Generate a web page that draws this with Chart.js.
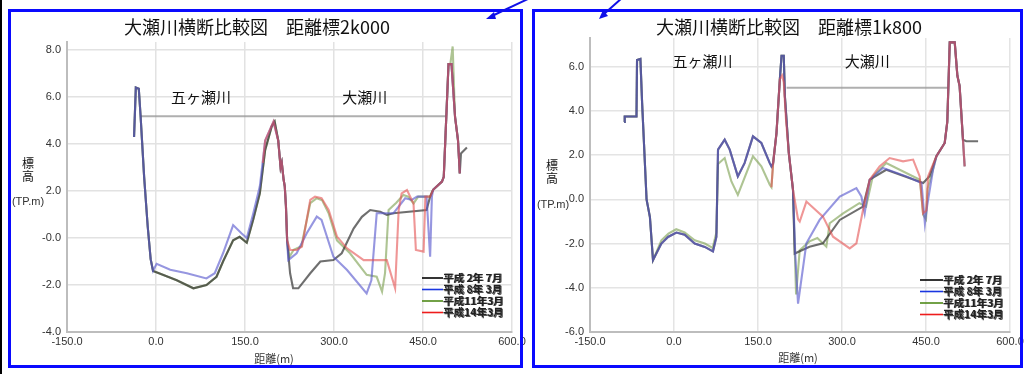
<!DOCTYPE html>
<html>
<head>
<meta charset="utf-8">
<script src="https://cdn.jsdelivr.net/npm/chart.js@4"></script>
<style>
  html, body { margin:0; padding:0; background:#fff; }
  body { width:1024px; height:374px; position:relative; overflow:hidden; }
  .panel { position:absolute; box-sizing:border-box; border:3px solid #0a0aff; z-index:2; }
  canvas { position:absolute; top:0; z-index:1; }
  .t { position:absolute; transform:translate(-50%,-50%); white-space:nowrap; color:#111; z-index:3;
       font-family:"Noto Sans CJK JP","Noto Sans",sans-serif; line-height:1; }
  .lat { font-family:"Liberation Sans",Arial,sans-serif; color:#333; }
</style>
</head>
<body>
<div style="position:absolute;left:0;top:0;width:2px;height:374px;background:#000"></div>
<div class="panel" style="left:8px;top:9px;width:515px;height:359px"></div>
<div class="panel" style="left:532px;top:9px;width:491px;height:359px"></div>
<svg width="1024" height="374" style="position:absolute;left:0;top:0;z-index:3">
  <line x1="530" y1="-2" x2="492" y2="16" stroke="#1010e8" stroke-width="2"/>
  <polygon points="486,19 494,12 496,19" fill="#1010e8"/>
  <line x1="622" y1="-2" x2="604" y2="14" stroke="#1010e8" stroke-width="2"/>
  <polygon points="599,19 603,10 608,16" fill="#1010e8"/>
</svg>
<canvas id="c1" width="526" height="374" style="left:0"></canvas>
<canvas id="c2" width="504" height="374" style="left:520px"></canvas>

<div class="t" style="left:257px;top:26px;font-size:18px">大瀬川横断比較図　距離標2k000</div>
<div class="t" style="left:789px;top:26px;font-size:18px">大瀬川横断比較図　距離標1k800</div>
<div class="t" style="left:28px;top:163px;font-size:12px">標</div>
<div class="t" style="left:28px;top:176px;font-size:12px">高</div>
<div class="t lat" style="left:28px;top:201px;font-size:11px">(TP.m)</div>
<div class="t" style="left:552px;top:165px;font-size:12px">標</div>
<div class="t" style="left:552px;top:178px;font-size:12px">高</div>
<div class="t lat" style="left:553px;top:204px;font-size:11px">(TP.m)</div>
<div class="t" style="left:274px;top:358px;font-size:11px;color:#333">距離(m)</div>
<div class="t" style="left:798px;top:357px;font-size:11px;color:#333">距離(m)</div>

<script>
// ---------- labels ----------
const seriesNames = ['平成 2年 7月', '平成 8年 3月', '平成11年3月', '平成14年3月'];
const xTickValues = [-150, 0, 150, 300, 450, 600];
const xTickLabels = ['-150.0', '0.0', '150.0', '300.0', '450.0', '600.0'];
const leftYTickValues = [-4, -2, 0, 2, 4, 6, 8];
const leftYTickLabels = ['-4.0', '-2.0', '-0.0', '2.0', '4.0', '6.0', '8.0'];
const rightYTickValues = [-6, -4, -2, 0, 2, 4, 6];
const rightYTickLabels = ['-6.0', '-4.0', '-2.0', '0.0', '2.0', '4.0', '6.0'];

// ---------- 距離標2k000 (left) segments [distance, elevation] ----------
const L_bankLeft = [[-37,4.3],[-34,6.4],[-29,6.35],[-26,5.2],[-20,2.6],[-14,0.5],[-9,-0.9],[-5,-1.4]];
const L_floorUpper = [[1,-1.1],[24,-1.35],[52,-1.5],[85,-1.72],[99,-1.5],[113,-0.65],[130,0.55],[144,0.2],[153,0.0],[164,1.05],[175,2.2],[184,4.15],[198,4.95]];
const L_floorLower = [[5,-1.5],[35,-1.8],[63,-2.14],[85,-2.0],[102,-1.65],[113,-1.0],[130,-0.1],[141,0.05],[153,-0.2],[164,0.8],[175,1.9],[184,3.75],[195,4.75],[200,4.95]];
const L_leveeH14 = [[180,3.2],[184,4.15],[198,4.95]];
const L_descent = [[206,4.15],[210,3.0],[212,3.2],[215,2.5],[217,2.2],[219,1.35],[221,-0.1]];
const L_bankRight = [[467,2.05],[482,2.4],[485,2.6],[493,7.4],[498,7.4],[504,5.15],[509,4.15],[512,2.75]];
const L_bankRightH11 = [[467,2.05],[482,2.4],[485,2.6],[493,7.4],[496,7.4],[500,8.15],[504,5.15],[509,4.15],[512,2.75]];
const L_chH2 = [[226,-1.5],[231,-2.14],[240,-2.14],[260,-1.5],[277,-1.0],[299,-0.94],[313,-0.65],[333,0.4],[347,0.9],[361,1.19],[378,1.12],[389,0.98],[400,1.05],[456,1.19],[462,1.76]];
const L_endH2 = [[514,3.6],[524,3.85]];
const L_chH8 = [[223,-0.94],[237,-0.65],[254,0.2],[271,0.91],[279,0.77],[299,-0.8],[322,-1.36],[355,-2.36],[363,-1.8],[372,1.05],[400,1.05],[420,1.69],[431,1.62],[440,1.76],[456,1.76],[462,-0.8],[465,1.76]];
const L_chH11 = [[225,-0.8],[232,-0.5],[245,-0.35],[260,1.48],[271,1.69],[280,1.6],[291,1.05],[305,-0.1],[327,-0.65],[355,-1.57],[372,-1.65],[381,-2.28],[386,-1.5],[392,1.19],[405,1.5],[417,1.83],[425,1.76],[434,1.47],[442,1.76],[457,1.76],[462,1.76]];
const L_chH14 = [[226,-0.51],[237,-0.51],[246,-0.37],[260,1.62],[268,1.76],[279,1.69],[291,1.19],[305,0.06],[322,-0.44],[350,-0.94],[389,-0.94],[403,-2.14],[409,1.19],[414,1.9],[423,2.04],[434,1.47],[438,-0.51],[451,-0.58],[454,1.76],[462,1.76]];
const L_waterLevel = [[-26,5.18],[490,5.18]];

// ---------- 距離標1k800 (right) segments ----------
const R_bankLeft = [[-89,3.5],[-88,3.75],[-67,3.75],[-66,6.3],[-60,6.35],[-57,4.4],[-49,0.0],[-43,-0.8],[-37.5,-2.75]];
const R_floorA = [[-22.5,-2.0],[-10.7,-1.7],[4.3,-1.5],[19,-1.6],[37,-2.0],[55,-2.15],[69.6,-2.35],[75.7,-1.7],[78.6,2.25]];
const R_floorB = [[-22.5,-1.85],[-10,-1.55],[4,-1.35],[19,-1.5],[37,-1.85],[55,-2.0],[69,-2.2],[75.7,-1.5],[78.6,1.6]];
const R_humpA = [[90.5,2.7],[99.5,2.25],[114,1.04],[126,1.64],[141,2.85],[156,2.55],[171,1.64],[174,1.49]];
const R_humpB = [[90.5,1.87],[102.5,0.81],[114,0.2],[141,1.95],[156,1.49],[171,0.66],[174,0.55]];
const R_levee = [[177,1.64],[183,3.0],[189,5.43],[192,6.5],[196,6.5],[198,4.67],[205,2.1],[212.5,0.43]];
const R_leveeH14 = [[174,0.55],[177,1.64],[183,3.0],[189,5.43],[193,5.6],[196,5.3],[200,3.6],[205,2.1],[212.5,0.43]];
const R_bankRight = [[483.4,2.55],[488,3.5],[492.4,7.1],[501.3,7.1],[506,5.6],[510,5.13],[516,2.7],[519,1.49]];
const R_bankRightH2 = [[483.4,2.55],[488,3.5],[492.4,7.1],[501.3,7.1],[506,5.6],[510,5.13],[516,2.7],[522,2.63],[543,2.63]];
const R_chH2 = [[215.5,-2.45],[242,-2.14],[266,-1.99],[296,-0.93],[337.5,-0.33],[349.5,0.89],[379,1.34],[445,0.74],[456,1.04],[468.6,1.95]];
const R_chH8 = [[216.7,-2.6],[221.5,-4.72],[236.4,-1.99],[260,-0.93],[296,0.13],[325.7,0.51],[334.6,0.13],[340.5,-0.63],[349.5,0.89],[373,1.42],[415,1.04],[442,0.74],[448,-1.08],[452,-0.3],[462.5,1.34],[468.6,1.95]];
const R_chH11 = [[218,-4.3],[224.5,-2.3],[242,-1.9],[256,-1.75],[272,-2.14],[278,-1.08],[302,-0.63],[331,-0.17],[343,-0.33],[355,1.04],[379,1.64],[439,0.89],[445,-0.7],[450,-0.9],[453,0.5],[462,1.3],[468.6,1.95]];
const R_chH14 = [[221.5,-0.9],[224.5,-1.0],[236.4,-0.1],[266,-0.78],[284,-1.69],[313.8,-2.22],[325.7,-1.99],[337.5,-0.48],[349.5,0.89],[367,1.49],[385,1.87],[409,1.72],[427,1.8],[438.8,1.04],[444.7,-0.63],[450.6,-0.5],[453.6,1.04],[468.6,1.95]];
const R_waterLevel = [[201,5.05],[490,5.05]];

// ---------- assembled series ----------
const leftSeries = [
  [...L_bankLeft, ...L_floorLower, ...L_descent, ...L_chH2, ...L_bankRight, ...L_endH2],
  [...L_bankLeft, ...L_floorUpper, ...L_descent, ...L_chH8, ...L_bankRight],
  [...L_bankLeft, ...L_floorLower, ...L_descent, ...L_chH11, ...L_bankRightH11],
  [...L_leveeH14, ...L_descent, ...L_chH14, ...L_bankRight]
];
const rightSeries = [
  [...R_bankLeft, ...R_floorA, ...R_humpA, ...R_levee, ...R_chH2, ...R_bankRightH2],
  [...R_bankLeft, ...R_floorA, ...R_humpA, ...R_levee, ...R_chH8, ...R_bankRight],
  [...R_bankLeft, ...R_floorB, ...R_humpB, ...R_levee, ...R_chH11, ...R_bankRight],
  [...R_leveeH14, ...R_chH14, ...R_bankRight]
];

// ---------- styles ----------
const lineColors = ['rgba(50,50,50,0.7)', 'rgba(85,85,205,0.62)', 'rgba(125,160,80,0.62)', 'rgba(228,80,80,0.6)'];
const legendColors = ['#000000', '#1a36e0', '#4f8a18', '#ee1c1c'];
const drawOrder = [3, 2, 4, 1];
const CJK = '"Noto Sans CJK JP","Noto Sans",sans-serif';
const LAT = '"Liberation Sans",Arial,sans-serif';

const overlayPlugin = {
  id: 'overlay',
  afterDatasetsDraw(chart, args, opts) {
    const { ctx, chartArea } = chart;
    const xs = chart.scales.x, ys = chart.scales.y;
    ctx.save();
    ctx.font = '15px ' + CJK;
    ctx.fillStyle = '#111';
    ctx.textAlign = 'center';
    ctx.textBaseline = 'middle';
    (opts.labels || []).forEach(l => ctx.fillText(l.text, xs.getPixelForValue(l.x), ys.getPixelForValue(l.y)));
    const items = chart.data.datasets.filter(d => d.legendColor);
    ctx.textAlign = 'left';
    ctx.font = 'bold 10.5px ' + CJK;
    items.forEach((d, i) => {
      const yy = chartArea.bottom + opts.legendTop + i * opts.legendGap;
      const x0 = chartArea.right + opts.legendLeft;
      ctx.strokeStyle = d.legendColor;
      ctx.lineWidth = 1.6;
      ctx.beginPath(); ctx.moveTo(x0, yy); ctx.lineTo(x0 + opts.legendLine, yy); ctx.stroke();
      ctx.fillStyle = '#555';
      ctx.fillText(d.label, x0 + opts.legendLine + 1, yy + 0.5);
      ctx.fillStyle = '#222';
      ctx.fillText(d.label, x0 + opts.legendLine, yy);
    });
    ctx.restore();
  }
};

function makeChart(id, series, water, yMin, yMax, yVals, yLabels, pad, labels, legendPos, gridColor) {
  const datasets = series.map((s, i) => ({
    label: seriesNames[i], data: s, borderColor: lineColors[i], legendColor: legendColors[i],
    borderWidth: 2.1, pointRadius: 0, tension: 0, order: drawOrder[i]
  }));
  datasets.push({ label: 'water', data: water, borderColor: 'rgba(155,155,155,0.8)', borderWidth: 2, pointRadius: 0, order: 5 });
  const xMap = new Map(xTickValues.map((v, i) => [v, xTickLabels[i]]));
  const yMap = new Map(yVals.map((v, i) => [v, yLabels[i]]));
  return new Chart(document.getElementById(id), {
    type: 'line',
    data: { datasets },
    plugins: [overlayPlugin],
    options: {
      responsive: false, animation: false, devicePixelRatio: 1,
      layout: { padding: pad },
      plugins: {
        legend: { display: false }, tooltip: { enabled: false }, title: { display: false },
        overlay: Object.assign({ labels }, legendPos)
      },
      scales: {
        x: {
          type: 'linear', min: -150, max: 600,
          afterBuildTicks: s => { s.ticks = xTickValues.map(v => ({ value: v })); },
          afterFit: s => { s.height = 30; s.paddingLeft = 0; s.paddingRight = 0; },
          ticks: { autoSkip: false, maxRotation: 0, padding: 3, color: '#333', font: { family: LAT, size: 11 },
                   callback: v => xMap.has(v) ? xMap.get(v) : '' },
          grid: { color: gridColor, lineWidth: 1.5, drawTicks: false },
          border: { display: true, color: '#bdbdbd', width: 2 }
        },
        y: {
          type: 'linear', min: yMin, max: yMax,
          afterBuildTicks: s => { s.ticks = yVals.map(v => ({ value: v })); },
          afterFit: s => { s.width = 50; s.paddingTop = 0; s.paddingBottom = 0; },
          ticks: { autoSkip: false, padding: 6, color: '#333', font: { family: LAT, size: 11 },
                   callback: v => yMap.has(v) ? yMap.get(v) : '' },
          grid: { color: gridColor, lineWidth: 1.5, drawTicks: false },
          border: { display: true, color: '#bdbdbd', width: 2 }
        }
      }
    }
  });
}

makeChart('c1', leftSeries, L_waterLevel, -4, 8.34, leftYTickValues, leftYTickLabels,
  { left: 17, right: 14, top: 42, bottom: 12 },
  [{ text: '五ヶ瀬川', x: 76, y: 6.0 }, { text: '大瀬川', x: 352, y: 6.0 }],
  { legendLeft: -90, legendTop: -54, legendGap: 11.5, legendLine: 21 }, '#e2e2e2');

makeChart('c2', rightSeries, R_waterLevel, -6, 7.3, rightYTickValues, rightYTickLabels,
  { left: 20, right: 14, top: 38, bottom: 12 },
  [{ text: '五ヶ瀬川', x: 51, y: 6.26 }, { text: '大瀬川', x: 345, y: 6.26 }],
  { legendLeft: -90, legendTop: -52, legendGap: 11.5, legendLine: 23 }, '#e4e4e4');
</script>
</body>
</html>
